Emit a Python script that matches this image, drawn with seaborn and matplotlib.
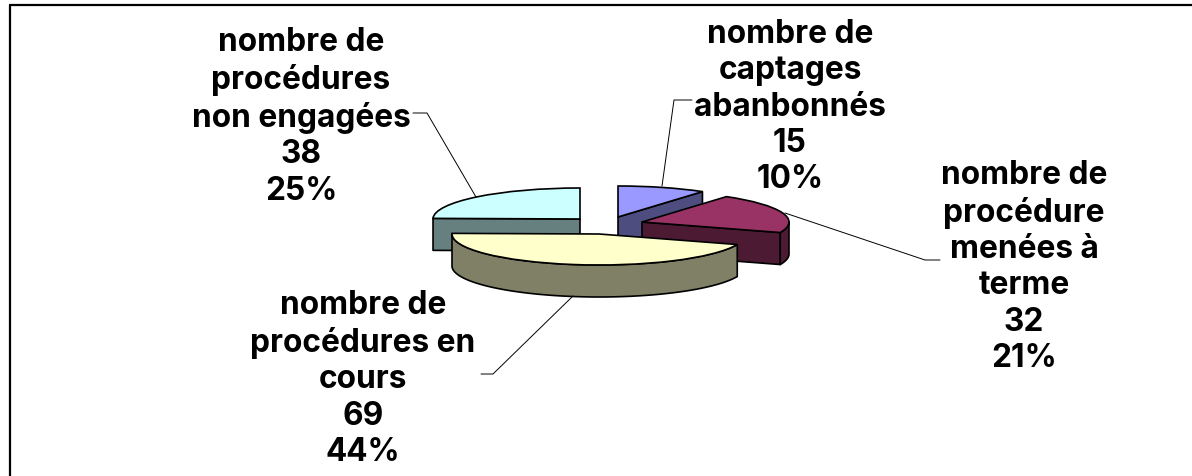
import numpy as np
import matplotlib
matplotlib.use("Agg")
import matplotlib.pyplot as plt
from matplotlib.patches import Wedge, Polygon
from matplotlib.colors import to_rgb
import seaborn as sns

labels = ["nombre de\ncaptages\nabanbonnés", "nombre de\nprocédure\nmenées à\nterme",
          "nombre de\nprocédures en\ncours", "nombre de\nprocédures\nnon engagées"]
values = [15, 32, 69, 38]
percents = ["10%", "21%", "44%", "25%"]
colors = ["#9999FF", "#993366", "#FFFFCC", "#CCFFFF"]

W, H = 1192, 477
RX, RY, DEPTH = 147, 31, 32
centers = [(618, 218), (642, 223), (599, 235), (580, 220)]
label_pos = [(790, 107), (1024, 267), (363, 379), (301, 117)]
leaders = [[(662, 187), (674, 101), (692, 101)],
           [(785, 214), (925, 261), (940, 261)],
           [(573, 297), (493, 375), (481, 375)],
           [(476, 198), (427, 114), (413, 114)]]

sns.set_theme(style="white")
plt.rcParams["font.family"] = ["Inter", "DejaVu Sans"]

fig = plt.figure(figsize=(W / 100, H / 100), dpi=100)
ax = fig.add_axes([0, 0, 1, 1])
ax.set_xlim(0, W / RX)
ax.set_ylim(0, H / RY)
ax.set_axis_off()


def X(px):
    return px / RX


def Y(py):
    return (H - py) / RY


lw = 1.2
d = DEPTH / RY
fracs = np.array(values) / sum(values)
# cumulated angles clockwise from 12 o'clock
edges = np.concatenate([[0], np.cumsum(fracs)]) * 360


def pt(c, a):
    r = np.radians(a)
    return c[0] + np.sin(r), c[1] + np.cos(r)


def draw_side(c, a1, a2, col):
    dark = tuple(0.5 * v for v in to_rgb(col))
    style = dict(facecolor=dark, edgecolor="black", linewidth=lw, joinstyle="round")
    walls = []
    if 0 < a2 < 180:
        walls.append(a2)
    if a1 >= 180:
        walls.append(a1)
    for a in walls:
        x, y = pt(c, a)
        ax.add_patch(Polygon([c, (x, y), (x, y - d), (c[0], c[1] - d)], **style))
    lo, hi = max(a1, 90), min(a2, 270)
    if hi > lo:
        top = np.array([pt(c, a) for a in np.linspace(lo, hi, 120)])
        bot = top - [0, d]
        ax.add_patch(Polygon(np.vstack([top, bot[::-1]]), **style))


for i in [3, 0, 1, 2]:
    cx, cy = centers[i]
    c = (X(cx), Y(cy))
    draw_side(c, edges[i], edges[i + 1], colors[i])
    ax.add_patch(Wedge(c, 1, 90 - edges[i + 1], 90 - edges[i], facecolor=colors[i],
                       edgecolor="black", linewidth=lw))

for path in leaders:
    ax.plot([X(p[0]) for p in path], [Y(p[1]) for p in path], color="black", lw=0.7)

for lab, v, p, (lx, ly) in zip(labels, values, percents, label_pos):
    ax.text(X(lx), Y(ly), f"{lab}\n{v}\n{p}", ha="center", va="center", fontsize=22.8,
            fontweight="bold", color="black", linespacing=1.225)

ax.plot([X(10), X(10)], [Y(H), Y(6)], color="black", lw=1.6, solid_capstyle="butt")
ax.plot([X(9), X(W)], [Y(6), Y(6)], color="black", lw=1.6, solid_capstyle="butt")

fig.savefig("out.png", dpi=100)
